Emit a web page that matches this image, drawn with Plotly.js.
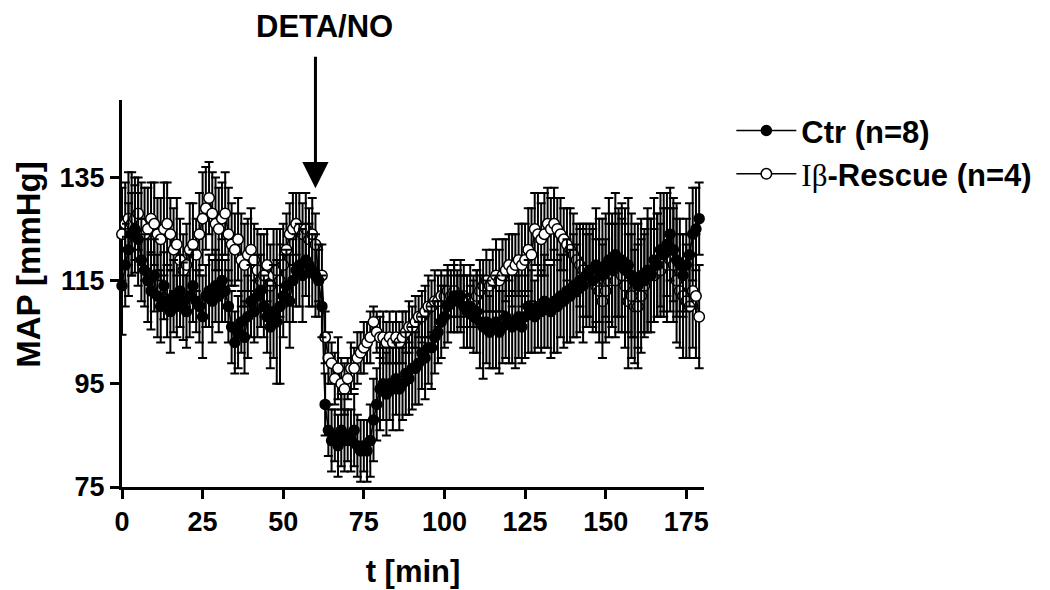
<!DOCTYPE html>
<html>
<head>
<meta charset="utf-8">
<script src="https://cdn.plot.ly/plotly-3.0.1.min.js"></script>
<style>
  html, body { margin: 0; padding: 0; background: #ffffff; }
  #chart { width: 1050px; height: 590px; }
</style>
</head>
<body>
<div id="chart"></div>
<script>
// Mean arterial pressure, sampled once per minute (t = 0 .. 179 min)
const timeMin = Array.from({length: 180}, (_, i) => i);

// Control animals (n=8): mean MAP and SEM
const ctrMean = [
  114,118,121,124,125,123,119,117,115,113,
  116,112,110,114,111,109,112,110,113,111,
  109,112,114,111,110,108,112,113,111,114,
  112,115,113,110,106,103,105,107,104,108,
  111,109,112,113,110,108,106,109,107,110,
  112,114,111,115,117,118,116,119,118,117,
  116,115,110,91,86,84,85,83,86,84,
  85,84,86,83,82,83,82,84,88,91,
  94,95,93,95,94,96,94,95,97,96,
  98,98,99,101,100,102,102,104,105,107,
  108,110,111,112,111,112,110,109,110,108,
  109,107,106,107,105,106,107,105,106,108,
  107,106,107,108,106,108,110,109,108,110,
  109,111,110,109,111,110,112,111,113,112,
  114,113,115,114,116,117,115,118,117,116,
  118,119,117,120,118,119,117,118,116,115,
  114,116,115,117,116,119,118,121,120,122,
  124,121,119,118,116,118,120,124,125,127
];
const ctrSem = [
  9.5,8,9,8,8.5,9,8,7,8,7.5,
  7,8,7,6.5,7,8,7,6,7,7.5,
  7,8,7,6,7,8,6,7,8,7,
  7,8,6,7,7,6,7,6,7,8,
  7,6,8,7,6,7,8,9,12,15,
  8,7,9,8,7,8,9,7,8,7,
  8,7,6,6,5,6,5,6,7,6,
  5,6,7,6,6,5,6,7,8,7,
  8,7,8,7,8,7,8,7,8,7,
  8,7,8,7,8,7,8,7,6,7,
  6,7,6,7,6,7,8,7,8,7,
  8,9,10,8,7,8,9,8,7,8,
  8,7,9,8,7,8,9,8,7,8,
  8,9,8,9,10,9,8,9,10,9,
  10,9,10,11,10,9,10,11,10,11,
  10,12,11,12,10,11,12,13,12,11,
  12,11,10,12,11,12,10,11,12,10,
  9,10,11,9,8,9,10,9,8,7
];

// Iβ-Rescue animals (n=4): mean MAP and SEM
const rescueMean = [
  124,126,127,126,127,128,126,124,125,127,
  126,124,123,125,126,124,121,122,119,117,
  118,121,122,120,124,127,129,131,128,126,
  125,127,128,124,122,121,123,119,118,120,
  121,119,117,115,116,118,114,116,117,115,
  118,121,124,125,126,125,124,125,123,124,
  122,116,116,104,100,99,96,98,95,94,
  96,98,98,100,101,102,103,104,107,105,
  104,104,103,104,103,104,103,104,105,106,
  106,107,108,108,109,110,110,111,111,112,
  112,113,112,113,112,111,112,111,110,111,
  112,113,114,115,114,115,116,115,116,117,
  118,117,118,119,118,119,121,120,125,124,
  123,124,126,125,126,125,124,123,122,121,
  120,119,118,117,116,115,116,114,113,111,
  113,115,116,115,117,116,114,111,112,110,
  110,112,114,116,117,116,118,117,119,118,
  119,118,115,113,112,111,110,113,112,108
];
const rescueSem = [
  9,8,9,10,8,7,8,9,8,7,
  8,7,8,9,8,7,8,9,8,7,
  8,9,8,7,8,9,8,7,8,9,
  8,7,8,9,8,7,8,9,8,7,
  8,7,8,9,8,7,8,9,8,7,
  8,7,6,7,6,7,6,7,6,7,
  6,5,6,5,5,4,5,6,5,5,
  4,5,4,5,4,5,4,5,3,4,
  4,5,4,5,4,5,4,5,4,5,
  4,5,4,5,5,6,5,6,5,5,
  4,5,4,5,4,5,4,5,4,5,
  5,6,5,6,5,6,7,6,7,6,
  6,7,6,7,8,7,8,9,7,8,
  7,8,7,6,7,6,7,6,7,8,
  8,7,8,9,8,9,10,9,10,11,
  10,11,10,11,12,11,12,13,12,11,
  12,11,10,11,10,9,10,9,10,11,
  10,11,12,11,12,11,10,11,12,10
];

const xTicks = [0, 25, 50, 75, 100, 125, 150, 175];
const yTicks = [75, 95, 115, 135];
const injectionTime = 60;   // DETA/NO given at 60 min

const FONT = 'Liberation Sans, Arial, Helvetica, sans-serif';

function seriesTrace(name, y, err, filled, rank) {
  return {
    type: 'scatter',
    mode: 'lines+markers',
    name: name,
    legendrank: rank,
    x: timeMin,
    y: y,
    cliponaxis: false,
    line: {color: '#000000', width: 1.6},
    marker: {
      symbol: 'circle',
      size: filled ? 10 : 10.5,
      color: filled ? '#000000' : '#ffffff',
      line: {color: '#000000', width: 1.5}
    },
    error_y: {
      type: 'data',
      array: err,
      visible: true,
      color: '#000000',
      thickness: 2,
      width: 4.5
    },
    hoverinfo: 'x+y'
  };
}

// Rescue group drawn first so the control group sits on top
const data = [
  seriesTrace('<span style="font-family:\'Liberation Serif\',\'Times New Roman\',serif;font-weight:normal">Iβ</span>-Rescue (n=4)',
              rescueMean, rescueSem, false, 2),
  seriesTrace('Ctr (n=8)', ctrMean, ctrSem, true, 1)
];

const axisCommon = {
  showline: true,
  linecolor: '#000000',
  linewidth: 3,
  showgrid: false,
  zeroline: false,
  ticks: 'outside',
  ticklen: 9,
  tickwidth: 3,
  tickcolor: '#000000',
  tickfont: {family: FONT, size: 27, color: '#000000', weight: 700},
  layer: 'below traces',
  fixedrange: true
};

const layout = {
  width: 1050,
  height: 590,
  paper_bgcolor: '#ffffff',
  plot_bgcolor: '#ffffff',
  margin: {l: 122, r: 346, t: 100, b: 103, pad: 0},
  showlegend: true,
  legend: {
    x: 1.047, xanchor: 'left',
    y: 0.99, yanchor: 'top',
    itemwidth: 60,
    font: {family: FONT, size: 31, color: '#000000', weight: 700},
    tracegroupgap: 4,
    bgcolor: 'rgba(0,0,0,0)'
  },
  xaxis: Object.assign({}, axisCommon, {
    range: [0, 180.5],
    tickvals: xTicks,
    ticktext: xTicks.map(String),
    title: {text: 't [min]', font: {family: FONT, size: 31, color: '#000000', weight: 700}, standoff: 24}
  }),
  yaxis: Object.assign({}, axisCommon, {
    range: [75, 150],
    tickvals: yTicks,
    ticktext: yTicks.map(String)
  }),
  annotations: [
    {
      // y-axis label
      xref: 'paper', yref: 'paper',
      x: -0.162, y: 0.576,
      xanchor: 'center', yanchor: 'middle',
      text: 'MAP [mmHg]',
      textangle: -90,
      showarrow: false,
      font: {family: FONT, size: 33, color: '#000000', weight: 700}
    },
    {
      // injection label
      xref: 'x', yref: 'paper',
      x: injectionTime, y: 1.19,
      xanchor: 'center', yanchor: 'middle',
      xshift: 9,
      text: 'DETA/NO',
      showarrow: false,
      font: {family: FONT, size: 31, color: '#000000', weight: 700}
    },
    {
      // injection arrow
      xref: 'x', yref: 'y',
      x: injectionTime, y: 132.9,
      text: '',
      showarrow: true,
      ax: 0, ay: -133,
      arrowhead: 2,
      arrowsize: 1.75,
      arrowwidth: 3,
      arrowcolor: '#000000'
    }
  ]
};

Plotly.newPlot('chart', data, layout, {displayModeBar: false, staticPlot: true});
</script>
</body>
</html>
